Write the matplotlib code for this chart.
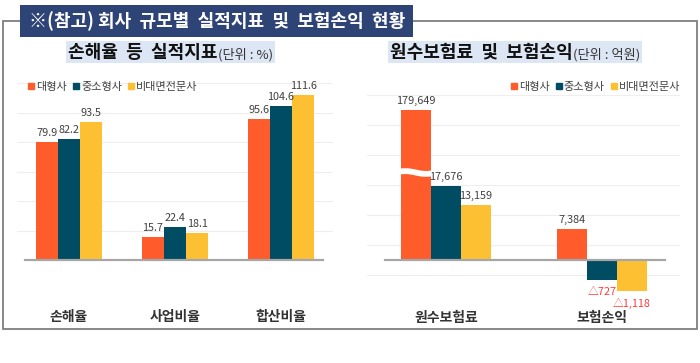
import numpy as np
import matplotlib
matplotlib.use("Agg")
import matplotlib.pyplot as plt
from matplotlib.patches import Rectangle
from matplotlib.lines import Line2D

plt.rcParams['font.family'] = ['Noto Sans CJK KR', 'DejaVu Sans']

# ---------------- data ----------------
title = "※(참고) 회사  규모별  실적지표  및  보험손익  현황"
series = ["대형사", "중소형사", "비대면전문사"]
colors = ["#FF5B2B", "#004C63", "#FDC033"]

left_title = "손해율  등  실적지표"
left_unit = "(단위 : %)"
left_cats = ["손해율", "사업비율", "합산비율"]
left_vals = {
    "대형사": [79.9, 15.7, 95.6],
    "중소형사": [82.2, 22.4, 104.6],
    "비대면전문사": [93.5, 18.1, 111.6],
}

right_title = "원수보험료  및  보험손익"
right_unit = "(단위 : 억원)"
right_cats = ["원수보험료", "보험손익"]
right_vals = {
    "대형사": [179649, 7384],
    "중소형사": [17676, -727],
    "비대면전문사": [13159, -1118],
}

W, H = 700, 363
fig = plt.figure(figsize=(W / 100, H / 100), dpi=100)


def fx(px):
    return px / W


def fy(py):
    return 1 - py / H


# outer frame
fig.patches.append(Rectangle((fx(3), fy(329)), fx(694), 308 / H, transform=fig.transFigure,
                             fill=False, edgecolor="#7F7F7F", lw=1.3, zorder=0))
# title box
fig.patches.append(Rectangle((fx(20), fy(37)), fx(393), 32 / H, transform=fig.transFigure,
                             facecolor="#2F4476", edgecolor="none", zorder=1))
fig.text(fx(217), fy(21.5), title, color="white", fontsize=13, fontweight="bold",
         ha="center", va="center", zorder=2)

text_col = "#404040"

# ---------------- left panel ----------------
ax1 = fig.add_axes([fx(17), fy(260), fx(316), 177 / H])
bw = 0.21
x1 = np.arange(len(left_cats))
for i, s in enumerate(series):
    cont = ax1.bar(x1 + (i - 1) * bw, left_vals[s], bw, color=colors[i], zorder=2)
    ax1.bar_label(cont, fmt="%.1f", padding=3, fontsize=7.8, color=text_col)
ax1.set_xlim(-0.4906, 2.4906)
ax1.set_ylim(0, 120)
ax1.set_yticks(np.arange(20, 121, 20))
ax1.yaxis.grid(True, color="#EEEEEE", lw=0.8, zorder=0)
ax1.set_axisbelow(True)
ax1.axhline(0, xmin=0.025, xmax=0.968, color="#A6A6A6", lw=1.6, zorder=3, clip_on=False)
ax1.set_xticks(x1, left_cats)
ax1.tick_params(axis="x", length=0, pad=36, labelsize=10, labelcolor="#333333")
for t in ax1.get_xticklabels():
    t.set_fontweight("bold")
ax1.tick_params(axis="y", length=0, labelleft=False)
for sp in ax1.spines.values():
    sp.set_visible(False)
ax1.patch.set_alpha(0)

# ---------------- right panel ----------------
NEG, POS, V0, HIGH = 36.0, 240.0, 19200.0, 2292.0


def fwd(v):
    v = np.asarray(v, dtype=float)
    return np.where(v < 0, v / NEG, np.where(v <= V0, v / POS, V0 / POS + (v - V0) / HIGH))


def inv(u):
    u = np.asarray(u, dtype=float)
    return np.where(u < 0, u * NEG, np.where(u <= V0 / POS, u * POS, V0 + (u - V0 / POS) * HIGH))


ax2 = fig.add_axes([fx(367), fy(300), fx(313), 205 / H])
ax2.set_yscale("function", functions=(fwd, inv))
bw2 = 0.192
x2 = np.arange(len(right_cats))
for i, s in enumerate(series):
    vals = right_vals[s]
    cont = ax2.bar(x2 + (i - 1) * bw2, vals, bw2, color=colors[i], zorder=2)
    pos_labels = [f"{v:,}" if v >= 0 else "" for v in vals]
    neg_labels = ["△" + f"{-v:,}" if v < 0 else "" for v in vals]
    ax2.bar_label(cont, labels=pos_labels, padding=3, fontsize=7.8, color=text_col)
    ax2.bar_label(cont, labels=neg_labels, padding=5, fontsize=7.8, color="#FF3B3B")
ax2.set_xlim(-0.506, 1.5)
ax2.set_ylim(float(inv(-40)), float(inv(165)))
ax2.set_yticks(inv(np.array([-15, 15, 45, 75, 105, 135, 165])))
ax2.yaxis.grid(True, color="#EEEEEE", lw=0.8, zorder=0)
ax2.set_axisbelow(True)
ax2.axhline(0, xmin=0.0575, xmax=0.952, color="#A6A6A6", lw=1.6, zorder=3)
ax2.set_xticks(x2, right_cats)
ax2.tick_params(axis="x", length=0, pad=8, labelsize=10, labelcolor="#333333")
for t in ax2.get_xticklabels():
    t.set_fontweight("bold")
ax2.tick_params(axis="y", which="both", length=0, labelleft=False)
ax2.yaxis.set_minor_locator(matplotlib.ticker.NullLocator())
for sp in ax2.spines.values():
    sp.set_visible(False)
ax2.patch.set_alpha(0)

# axis break on the tallest bar
bx0 = x2[0] - bw2 * 1.5 - 0.01
bx1 = x2[0] - bw2 * 0.5 + 0.005
bxs = np.linspace(bx0, bx1, 20)
tt = np.linspace(0, 1, 20)
bys = inv(88.5 - 2.0 * tt + 0.8 * np.sin(tt * np.pi * 2))
ax2.plot(bxs, bys, color="white", lw=4.2, zorder=4, solid_capstyle="butt")


# ---------------- subtitles with highlight ----------------
def subtitle(xpx, main, unit):
    t1 = fig.text(fx(xpx), fy(52), main, fontsize=13, fontweight="bold", color="#111111",
                  ha="left", va="center", zorder=3)
    t2 = fig.text(0, 0, unit, fontsize=9.5, color="#333333", ha="left", va="baseline", zorder=3)
    fig.canvas.draw()
    r = fig.canvas.get_renderer()
    b1 = t1.get_window_extent(r)
    t2.set_position((b1.x1 / fig.bbox.width, (b1.y0 + 3) / fig.bbox.height))
    fig.canvas.draw()
    b2 = t2.get_window_extent(r)
    x0 = b1.x0 - 2
    x1 = b2.x1 + 2
    y0 = min(b1.y0, b2.y0) - 1
    y1 = b1.y1 + 1
    fig.patches.append(Rectangle((x0 / fig.bbox.width, y0 / fig.bbox.height),
                                 (x1 - x0) / fig.bbox.width, (y1 - y0) / fig.bbox.height,
                                 transform=fig.transFigure, facecolor="#DDE6F4",
                                 edgecolor="none", zorder=2))


subtitle(68, left_title, left_unit)
subtitle(390, right_title, right_unit)

# ---------------- legends ----------------
handles = [Line2D([], [], marker="s", ls="", color=c, markersize=5) for c in colors]
fig.legend(handles, series, loc="center left", bbox_to_anchor=(fx(28), fy(87)), ncol=3,
           frameon=False, fontsize=8, handlelength=0.6, handletextpad=0.15, columnspacing=0.5,
           borderaxespad=0, borderpad=0, labelcolor=text_col)
fig.legend(handles, series, loc="center right", bbox_to_anchor=(fx(680), fy(87)), ncol=3,
           frameon=False, fontsize=8, handlelength=0.6, handletextpad=0.15, columnspacing=0.5,
           borderaxespad=0, borderpad=0, labelcolor=text_col)

fig.savefig("out.png", dpi=100)
